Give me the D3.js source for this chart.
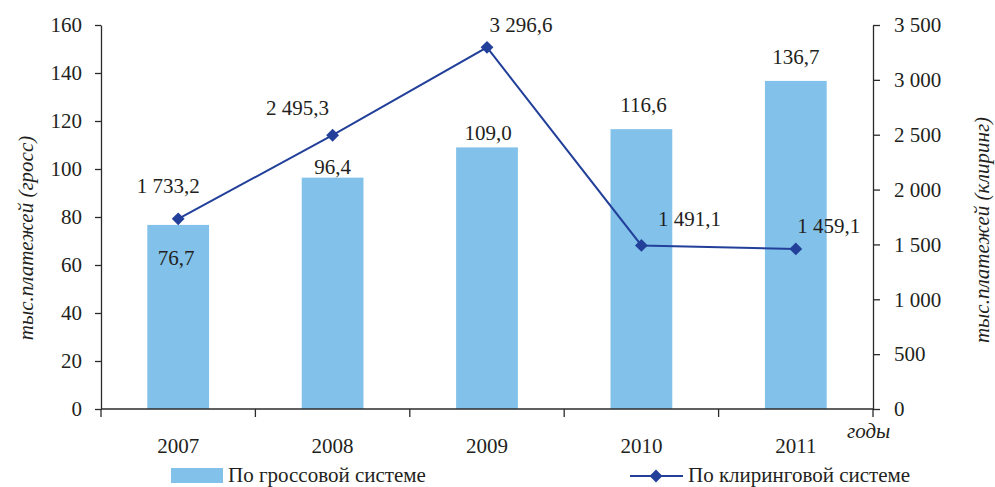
<!DOCTYPE html>
<html>
<head>
<meta charset="utf-8">
<script src="https://cdn.jsdelivr.net/npm/d3@7"></script>
<style>
  html, body { margin: 0; padding: 0; background: #fff; }
  svg { display: block; }
  svg text { font-family: "Liberation Serif", "DejaVu Serif", "Times New Roman", serif; }
</style>
</head>
<body>
<svg id="chart" width="995" height="487"></svg>
<script>
// ---- data ----
const years = ["2007", "2008", "2009", "2010", "2011"];
const grossValues = [76.7, 96.4, 109.0, 116.6, 136.7];
const clearingValues = [1733.2, 2495.3, 3296.6, 1491.1, 1459.1];
const leftTicks = [0, 20, 40, 60, 80, 100, 120, 140, 160];
const rightTicks = [0, 500, 1000, 1500, 2000, 2500, 3000, 3500];
const leftTitle = "тыс.платежей (гросс)";
const rightTitle = "тыс.платежей (клиринг)";
const xTitle = "годы";
const legendGross = "По гроссовой системе";
const legendClearing = "По клиринговой системе";

// label placement offsets (style, px)
const barLabelOffsets = [[-2, 40], [0, -4], [1, -7], [2, -17], [0, -17]];
const lineLabelOffsets = [[-10, -26], [-35, -20], [34, -15], [48, -19], [33, -16]];

// ---- styles ----
const FONT = '"Liberation Serif", "DejaVu Serif", "Times New Roman", serif';
const TEXT = "#231f20";
const AXIS = "#2b2b2b";
const BAR = "#82c1ea";
const LINE = "#22409a";
const FS = 21;

const svg = d3.select("#chart");
const L = 101, R = 873, T = 25, B = 409;

const locale = d3.formatLocale({ decimal: ",", thousands: "\u00a0", grouping: [3], currency: ["", ""] });
const fmtInt = locale.format(",");
const fmt1 = locale.format(",.1f");

const x = d3.scaleBand().domain(years).range([L, R]).paddingInner(0.6).paddingOuter(0.3);
const yL = d3.scaleLinear().domain([0, 160]).range([B, T]);
const yR = d3.scaleLinear().domain([0, 3500]).range([B, T]);

function txt(sel) {
  return sel.style("font-family", FONT).style("font-size", FS + "px").attr("fill", TEXT);
}

// bars
svg.append("g").selectAll("rect").data(years).join("rect")
  .attr("x", d => x(d))
  .attr("y", (d, i) => yL(grossValues[i]))
  .attr("width", x.bandwidth())
  .attr("height", (d, i) => B - yL(grossValues[i]))
  .attr("fill", BAR);

// axes
function styleAxis(g) {
  g.attr("font-family", null).attr("font-size", null);
  g.selectAll(".domain").attr("stroke", AXIS).attr("stroke-width", 1.3);
  g.selectAll(".tick line").attr("stroke", AXIS).attr("stroke-width", 1.3);
  txt(g.selectAll("text"));
}

const gL = svg.append("g").attr("transform", `translate(${L},0)`)
  .call(d3.axisLeft(yL).tickValues(leftTicks).tickSize(6).tickSizeOuter(0).tickPadding(13).tickFormat(d => fmtInt(d)));
styleAxis(gL);

const gR = svg.append("g").attr("transform", `translate(${R},0)`)
  .call(d3.axisRight(yR).tickValues(rightTicks).tickSize(7).tickSizeOuter(0).tickPadding(14).tickFormat(d => fmtInt(d)));
styleAxis(gR);

const gX = svg.append("g").attr("transform", `translate(0,${B})`)
  .call(d3.axisBottom(x).tickSize(0).tickSizeOuter(0).tickPadding(29));
styleAxis(gX);
gX.select(".domain").attr("d", `M${L},0H${R}`);

// category boundary ticks
const step = x.step();
const bounds = d3.range(years.length + 1).map(i => x(years[0]) - (step - x.bandwidth()) / 2 + i * step);
svg.append("g").selectAll("line").data(bounds).join("line")
  .attr("x1", d => d).attr("x2", d => d)
  .attr("y1", B).attr("y2", B + 8)
  .attr("stroke", AXIS).attr("stroke-width", 1.3);

// line series
const pts = years.map((d, i) => [x(d) + x.bandwidth() / 2, yR(clearingValues[i])]);
svg.append("path")
  .attr("d", d3.line()(pts))
  .attr("fill", "none").attr("stroke", LINE).attr("stroke-width", 2);

const diamond = d3.symbol().type(d3.symbolSquare).size(82);
svg.append("g").selectAll("path").data(pts).join("path")
  .attr("d", diamond)
  .attr("transform", d => `translate(${d[0]},${d[1]}) rotate(45)`)
  .attr("fill", LINE);

// bar labels
txt(svg.append("g").selectAll("text").data(years).join("text")
  .attr("x", (d, i) => x(d) + x.bandwidth() / 2 + barLabelOffsets[i][0])
  .attr("y", (d, i) => yL(grossValues[i]) + barLabelOffsets[i][1])
  .attr("text-anchor", "middle"))
  .text((d, i) => fmt1(grossValues[i]));

// line labels
txt(svg.append("g").selectAll("text").data(pts).join("text")
  .attr("x", (d, i) => d[0] + lineLabelOffsets[i][0])
  .attr("y", (d, i) => d[1] + lineLabelOffsets[i][1])
  .attr("text-anchor", "middle"))
  .text((d, i) => fmt1(clearingValues[i]));

// axis titles
txt(svg.append("text")
  .attr("transform", `translate(33,238) rotate(-90)`)
  .attr("text-anchor", "middle"))
  .style("font-style", "italic")
  .text(leftTitle);
txt(svg.append("text")
  .attr("transform", `translate(989,230) rotate(-90)`)
  .attr("text-anchor", "middle"))
  .style("font-style", "italic")
  .text(rightTitle);
txt(svg.append("text")
  .attr("x", 847).attr("y", 438))
  .style("font-style", "italic")
  .text(xTitle);

// legend
const lg = svg.append("g");
lg.append("rect").attr("x", 171).attr("y", 468).attr("width", 52).attr("height", 15).attr("fill", BAR);
txt(lg.append("text").attr("x", 228).attr("y", 482)).text(legendGross);
lg.append("line").attr("x1", 630).attr("x2", 683).attr("y1", 476).attr("y2", 476)
  .attr("stroke", LINE).attr("stroke-width", 2);
lg.append("path").attr("d", diamond).attr("transform", "translate(656,476) rotate(45)").attr("fill", LINE);
txt(lg.append("text").attr("x", 688).attr("y", 482)).text(legendClearing);
</script>
</body>
</html>
